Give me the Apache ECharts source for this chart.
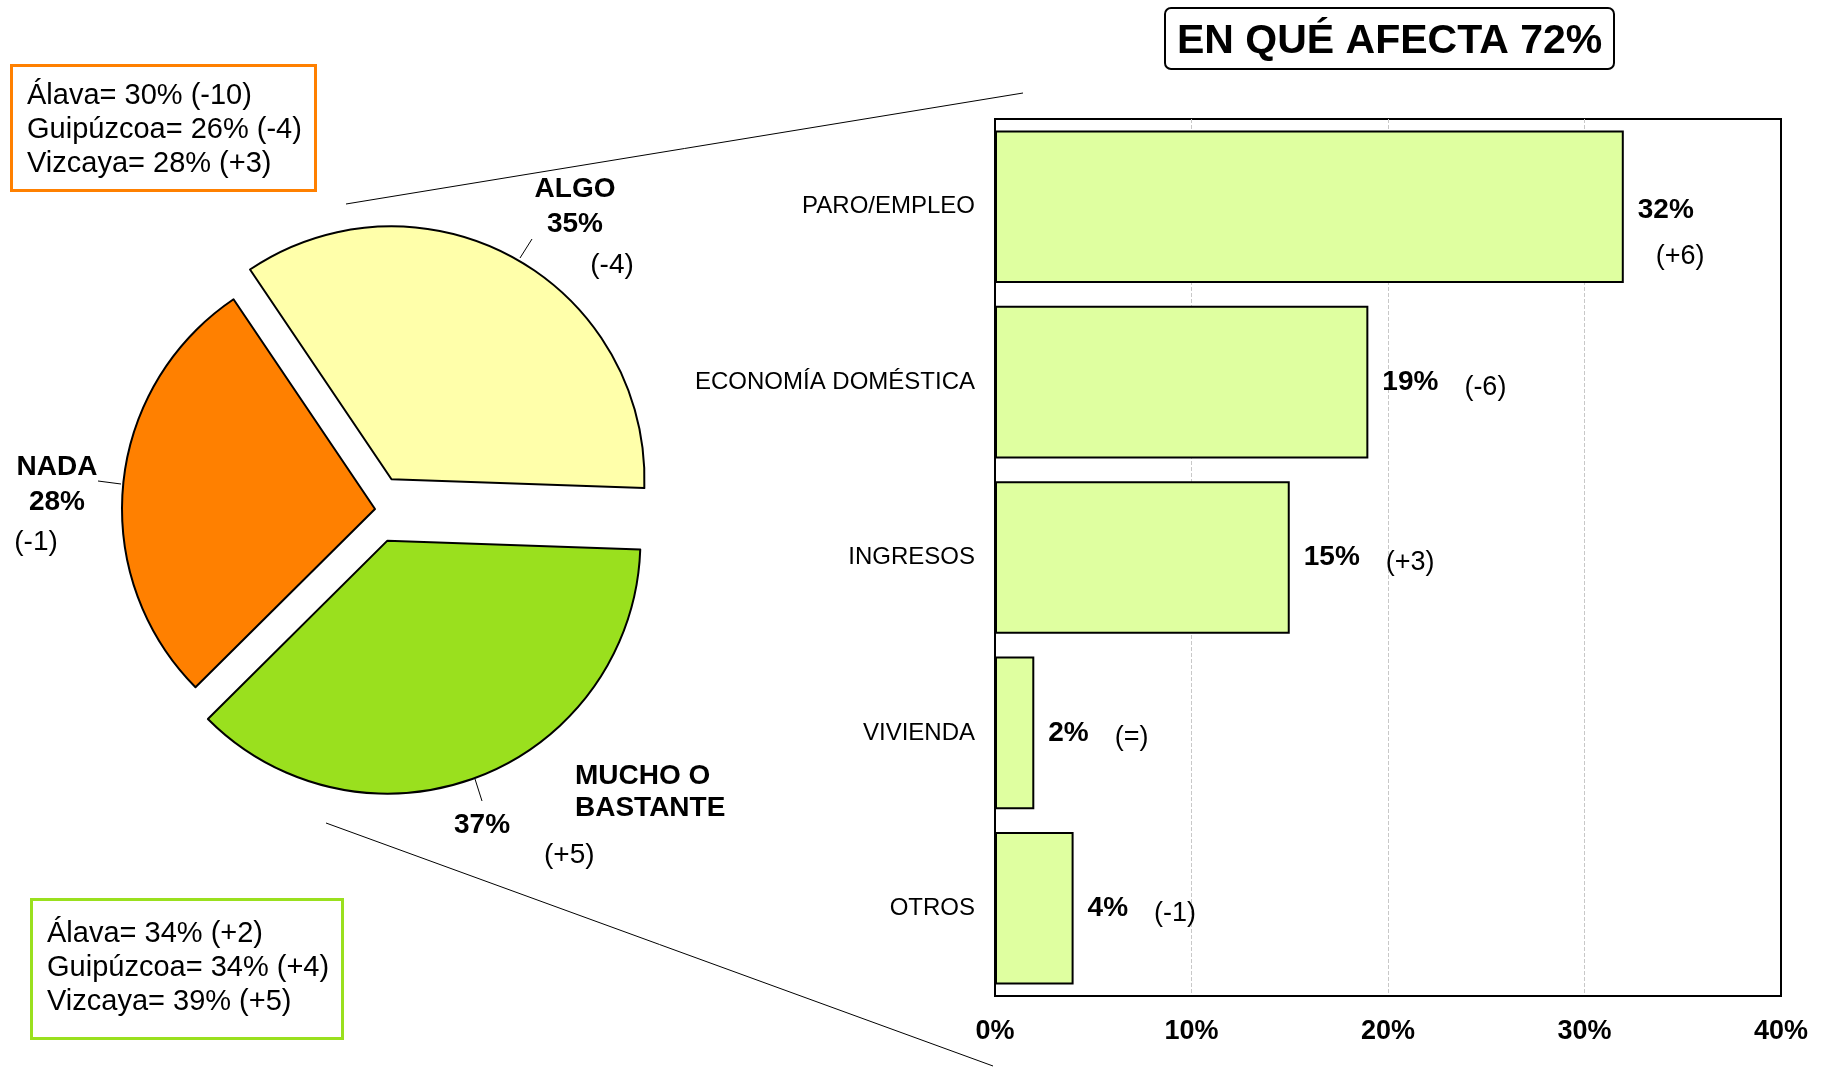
<!DOCTYPE html>
<html>
<head>
<meta charset="utf-8">
<script src="https://cdn.jsdelivr.net/npm/echarts@6/dist/echarts.min.js"></script>
<style>
html, body { margin: 0; padding: 0; background: #fff; }
#main { width: 1825px; height: 1069px; }
</style>
</head>
<body>
<div id="main"></div>
<script>
// pie: how much it affects
const pieNames = ['ALGO', 'MUCHO O\nBASTANTE', 'NADA'];
const pieValues = [35, 37, 28];
const pieDiffs = ['(-4)', '(+5)', '(-1)'];
const pieColors = ['#FFFFAA', '#9AE01E', '#FF8000'];
const pieExploded = [true, true, false];

// bars: in what it affects
const barCats = ['PARO/EMPLEO', 'ECONOMÍA DOMÉSTICA', 'INGRESOS', 'VIVIENDA', 'OTROS'];
const barValues = [32, 19, 15, 2, 4];
const barDiffs = ['(+6)', '(-6)', '(+3)', '(=)', '(-1)'];
const xMin = 0, xMax = 40, xStep = 10;

// province boxes
const nadaProvinces = ['Álava= 30% (-10)', 'Guipúzcoa= 26% (-4)', 'Vizcaya= 28% (+3)'];
const muchoProvinces = ['Álava= 34% (+2)', 'Guipúzcoa= 34% (+4)', 'Vizcaya= 39% (+5)'];
const chartTitle = 'EN QUÉ AFECTA 72%';

const FONT = "'Liberation Sans', Arial, sans-serif";

var myChart = echarts.init(document.getElementById('main'));

function pieLabel(p) {
  const i = p.dataIndex;
  const pct = pieValues[i] + '%';
  if (i === 1) {
    const parts = pieNames[1].split('\n');
    return `{s1| }{b|${parts[0]}}\n{p|${pct}}{bt|${parts[1]}}\n{s2| }{d|${pieDiffs[1]}}`;
  }
  if (i === 0) return `{b|${pieNames[0]}}\n{b|${pct}}\n{dA|${pieDiffs[0]}}`;
  return `{b|${pieNames[2]}}\n{b|${pct}}\n{dN|${pieDiffs[2]}}`;
}

// where each pie label sits, and its leader line
const pieSpots = [
  {x: 575, y: 172, align: 'center', line: [[520, 258], [532, 239]]},
  {x: 454, y: 759, align: 'left', line: [[475, 779], [482, 801]]},
  {x: 57, y: 450, align: 'center', line: [[98, 481], [121, 484]]}
];

function barLabel(p) {
  const i = p.dataIndex;
  if (i === 0) return `{b|${barValues[0]}%}\n{d0|${barDiffs[0]}}`;
  return `{b|${barValues[i]}%}{d|${barDiffs[i]}}`;
}

const pieBase = {
  type: 'pie', center: [375, 509], radius: 253, startAngle: 124, clockwise: true, silent: true
};

var option = {
  animation: false,
  textStyle: {fontFamily: FONT, color: '#000'},
  title: [
    {
      text: chartTitle, left: 1165, top: 8, padding: [11, 12, 5, 12],
      borderColor: '#000', borderWidth: 2, borderRadius: 6,
      textStyle: {fontFamily: FONT, fontSize: 41, fontWeight: 'bold', lineHeight: 45, color: '#000'}
    },
    {
      text: nadaProvinces.join('\n'), left: 11, top: 65, padding: [14, 14, 10, 16],
      borderColor: '#FF8000', borderWidth: 3,
      textStyle: {fontFamily: FONT, fontSize: 29, fontWeight: 'normal', lineHeight: 34, color: '#000'}
    },
    {
      text: muchoProvinces.join('\n'), left: 31, top: 899, padding: [18, 14, 20, 16],
      borderColor: '#9AE01E', borderWidth: 3,
      textStyle: {fontFamily: FONT, fontSize: 29, fontWeight: 'normal', lineHeight: 34, color: '#000'}
    }
  ],
  grid: {left: 995, top: 119, width: 786, height: 877, show: true, borderColor: '#000', borderWidth: 2},
  xAxis: {
    type: 'value', min: xMin, max: xMax, interval: xStep,
    axisLabel: {formatter: '{value}%', fontFamily: FONT, fontWeight: 'bold', fontSize: 27, color: '#000', margin: 22},
    axisLine: {show: true, lineStyle: {color: '#000', width: 2}},
    axisTick: {show: false},
    splitLine: {show: true, showMinLine: false, showMaxLine: false, lineStyle: {type: 'dashed', color: '#c8c8c8', width: 1}}
  },
  yAxis: {
    type: 'category', inverse: true, data: barCats,
    axisLabel: {fontFamily: FONT, fontSize: 24, color: '#000', margin: 20},
    axisLine: {show: true, lineStyle: {color: '#000', width: 2}},
    axisTick: {show: false},
    splitLine: {show: false}
  },
  series: [
    {
      type: 'bar', barWidth: '87%', silent: true,
      data: barValues.map((v, i) => i === 0 ? {value: v, label: {offset: [0, 34]}} : v),
      itemStyle: {color: '#DFFFA0', borderColor: '#000', borderWidth: 2},
      label: {
        show: true, position: 'right', distance: 14, formatter: barLabel,
        rich: {
          b: {fontFamily: FONT, fontSize: 28, fontWeight: 'bold', color: '#000', lineHeight: 32},
          d0: {fontFamily: FONT, fontSize: 27, color: '#000', lineHeight: 60, padding: [0, 0, 0, 18]},
          d: {fontFamily: FONT, fontSize: 27, color: '#000', lineHeight: 32, padding: [10, 0, 0, 26]}
        }
      }
    },
    Object.assign({}, pieBase, {
      selectedMode: 'multiple', selectedOffset: 34,
      data: pieValues.map((v, i) => ({
        name: pieNames[i], value: v, selected: pieExploded[i],
        itemStyle: {color: pieColors[i]}
      })),
      itemStyle: {borderColor: '#000', borderWidth: 2},
      select: {itemStyle: {borderColor: '#000', borderWidth: 2}},
      label: {show: false},
      labelLine: {show: false}
    }),
    // label layer for the pie (same layout, no fill)
    Object.assign({}, pieBase, {
      data: pieValues.map((v, i) => ({name: pieNames[i], value: v})),
      itemStyle: {color: 'rgba(0,0,0,0)', borderWidth: 0},
      label: {
        show: true, formatter: pieLabel, color: '#000', overflow: 'none',
        rich: {
          b: {fontFamily: FONT, fontSize: 28, fontWeight: 'bold', color: '#000', lineHeight: 35},
          bt: {fontFamily: FONT, fontSize: 28, fontWeight: 'bold', color: '#000', lineHeight: 34, verticalAlign: 'top'},
          p: {fontFamily: FONT, fontSize: 28, fontWeight: 'bold', color: '#000', lineHeight: 45, width: 121, align: 'left', verticalAlign: 'bottom'},
          s1: {width: 121, lineHeight: 34},
          s2: {width: 90, lineHeight: 32},
          d: {fontFamily: FONT, fontSize: 28, color: '#000', lineHeight: 32},
          dA: {fontFamily: FONT, fontSize: 28, color: '#000', lineHeight: 47, padding: [0, 0, 0, 74]},
          dN: {fontFamily: FONT, fontSize: 28, color: '#000', lineHeight: 44, padding: [0, 42, 0, 0]}
        }
      },
      labelLine: {show: true, lineStyle: {color: '#000', width: 1}},
      labelLayout: function (p) {
        const s = pieSpots[p.dataIndex];
        return {x: s.x, y: s.y, align: s.align, verticalAlign: 'top', labelLinePoints: s.line};
      }
    })
  ],
  graphic: [
    {type: 'line', shape: {x1: 346, y1: 204, x2: 1023, y2: 93}, style: {stroke: '#000', lineWidth: 1}},
    {type: 'line', shape: {x1: 326, y1: 823, x2: 993, y2: 1066}, style: {stroke: '#000', lineWidth: 1}}
  ]
};

option && myChart.setOption(option);
</script>
</body>
</html>
